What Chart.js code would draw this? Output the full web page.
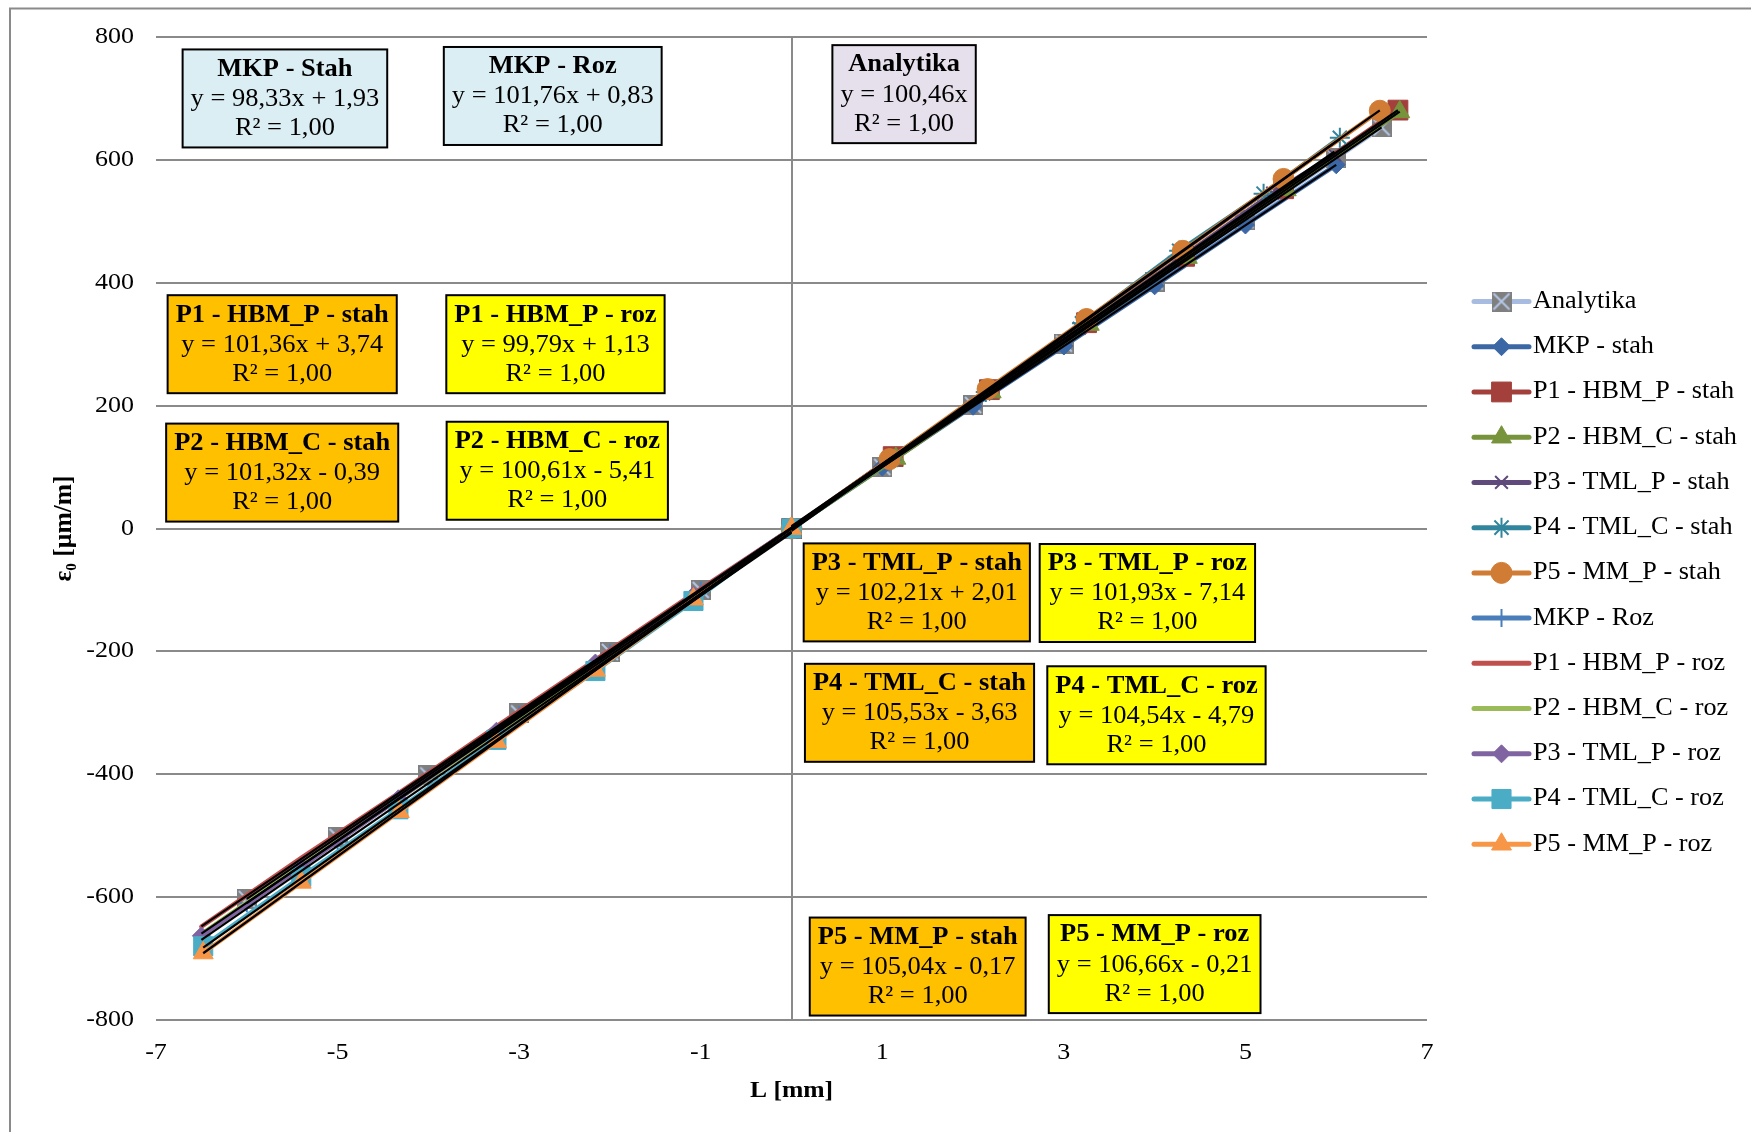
<!DOCTYPE html>
<html>
<head>
<meta charset="utf-8">
<script src="https://cdn.jsdelivr.net/npm/chart.js@4.4.1/dist/chart.umd.min.js"></script>
<style>
  html, body { margin: 0; padding: 0; background: #fff; }
  canvas { display: block; }
</style>
</head>
<body>
<canvas id="chart" width="1751" height="1132" style="width:1751px;height:1132px"></canvas>
<script>
// Nazvy serii (poradi jako v legende)
const seriesNames = [
  "Analytika", "MKP - stah", "P1 - HBM_P - stah", "P2 - HBM_C - stah",
  "P3 - TML_P - stah", "P4 - TML_C - stah", "P5 - MM_P - stah",
  "MKP - Roz", "P1 - HBM_P - roz", "P2 - HBM_C - roz",
  "P3 - TML_P - roz", "P4 - TML_C - roz", "P5 - MM_P - roz"
];

// Hodnoty: L [mm] a ε0 [µm/m]
const analytikaX = [-6, -5, -4, -3, -2, -1, 0, 1, 2, 3, 4, 5, 6, 6.5];
const analytikaY = [-603, -502, -402, -301, -201, -100, 0, 100, 201, 301, 402, 502, 603, 653];

const mkpStahX = [0, 1, 2, 3, 4, 5, 6];
const mkpStahY = [0, 100, 199, 297, 395, 494, 592];
const p1StahX = [0, 1.12, 2.18, 3.25, 4.33, 5.42, 6.68];
const p1StahY = [0, 117, 226, 335, 443, 553, 681];
const p2StahX = [0, 1.15, 2.2, 3.28, 4.36, 5.45, 6.7];
const p2StahY = [0, 114, 222, 332, 441, 551, 678];
const p3StahX = [0, 1.08, 2.12, 3.17, 4.22, 5.3, 5.98];
const p3StahY = [0, 113, 219, 326, 433, 546, 608];
const p4StahX = [0, 1.1, 2.14, 3.2, 4.27, 5.2, 6.04];
const p4StahY = [0, 112, 222, 334, 452, 545, 636];
const p5StahX = [0, 1.08, 2.16, 3.25, 4.31, 5.42, 6.48];
const p5StahY = [0, 113, 227, 341, 452, 569, 680];

const mkpRozX = [0, -1, -2, -3, -4, -5, -6];
const mkpRozY = [0, -101, -203, -304, -406, -508, -610];
const p1RozX = [0, -1.08, -2.16, -3.25, -4.33, -5.4, -6.5];
const p1RozY = [0, -106, -214, -322, -431, -536, -648];
const p2RozX = [0, -1.08, -2.16, -3.25, -4.33, -5.4, -6.5];
const p2RozY = [0, -114, -223, -333, -440, -548, -660];
const p3RozX = [0, -1.08, -2.16, -3.25, -4.33, -5.4, -6.5];
const p3RozY = [0, -109, -219, -330, -440, -551, -663];
const p4RozX = [0, -1.08, -2.16, -3.25, -4.33, -5.4, -6.48];
const p4RozY = [0, -118, -232, -344, -457, -567, -680];
const p5RozX = [0, -1.08, -2.16, -3.25, -4.32, -5.4, -6.48];
const p5RozY = [0, -115, -231, -347, -461, -576, -691];

const allX = [analytikaX, mkpStahX, p1StahX, p2StahX, p3StahX, p4StahX, p5StahX,
  mkpRozX, p1RozX, p2RozX, p3RozX, p4RozX, p5RozX];
const allY = [analytikaY, mkpStahY, p1StahY, p2StahY, p3StahY, p4StahY, p5StahY,
  mkpRozY, p1RozY, p2RozY, p3RozY, p4RozY, p5RozY];

// Linearni spojnice trendu (z rovnic v grafu)
const trendSlope = [100.46, 98.33, 101.36, 101.32, 102.21, 105.53, 105.04, 101.76, 99.79, 100.61, 101.93, 104.54, 106.66];
const trendIntercept = [0, 1.93, 3.74, -0.39, 2.01, -3.63, -0.17, 0.83, 1.13, -5.41, -7.14, -4.79, -0.21];

// Popisky rovnic
const boxTitles = ["Analytika", "MKP - Stah", "P1 - HBM_P - stah", "P2 - HBM_C - stah",
  "P3 - TML_P - stah", "P4 - TML_C - stah", "P5 - MM_P - stah",
  "MKP - Roz", "P1 - HBM_P - roz", "P2 - HBM_C - roz",
  "P3 - TML_P - roz", "P4 - TML_C - roz", "P5 - MM_P - roz"];
const r2Text = "R² = 1,00";

// Styly
const GRID = "#8a8a8a";
const FONT = "'Liberation Serif', 'Times New Roman', serif";
const lineColors = ["#a7bce0", "#3b67a5", "#a3403c", "#77933c", "#5f4a7b", "#31859c", "#d07c34",
  "#4a7ebb", "#c0504d", "#9bbb59", "#8064a2", "#4bacc6", "#f79646"];

function analytikaMarker() {
  const c = document.createElement("canvas");
  c.width = 20; c.height = 20;
  const g = c.getContext("2d");
  g.fillStyle = "#7f7f7f";
  g.fillRect(0, 0, 20, 20);
  g.strokeStyle = "#b4c8e8";
  g.lineWidth = 2;
  g.beginPath();
  g.moveTo(2, 2); g.lineTo(18, 18);
  g.moveTo(18, 2); g.lineTo(2, 18);
  g.stroke();
  return c;
}

const markerStyles = [analytikaMarker(), "rectRot", "rect", "triangle", "crossRot", "star", "circle",
  "cross", false, false, "rectRot", "rect", "triangle"];
const markerRadius = [10, 9, 14, 11.5, 9, 10, 10.5, 9, 0, 0, 9, 13.5, 11.5];
const markerBorder = [0, 1, 1, 1, 2, 2, 1, 2, 0, 0, 1, 1, 1];

// Umisteni ramecku s rovnicemi (stred, v jednotkach os)
const boxPlace = [
  { x: 1.24, y: 707, fill: "#e6e0ec" },
  { x: -5.58, y: 700, fill: "#dbeef4" },
  { x: -5.61, y: 300, fill: "#ffc000" },
  { x: -5.61, y: 91, fill: "#ffc000" },
  { x: 1.38, y: -104, fill: "#ffc000" },
  { x: 1.41, y: -300, fill: "#ffc000" },
  { x: 1.39, y: -713, fill: "#ffc000" },
  { x: -2.63, y: 704, fill: "#dbeef4" },
  { x: -2.60, y: 300, fill: "#ffff00" },
  { x: -2.58, y: 94, fill: "#ffff00" },
  { x: 3.92, y: -105, fill: "#ffff00" },
  { x: 4.02, y: -304, fill: "#ffff00" },
  { x: 4.00, y: -709, fill: "#ffff00" }
];

function fmtNum(v) {
  return v.toFixed(2).replace(".", ",");
}

function equationText(i) {
  const a = trendSlope[i], b = trendIntercept[i];
  if (b === 0) return `y = ${fmtNum(a)}x`;
  return `y = ${fmtNum(a)}x ${b < 0 ? "-" : "+"} ${fmtNum(Math.abs(b))}`;
}

// Text roztazeny vodorovne (jako v puvodnim obrazku)
function drawText(ctx, text, x, y, font, align, sx) {
  ctx.save();
  ctx.font = font;
  ctx.fillStyle = "#000";
  ctx.textBaseline = "middle";
  ctx.textAlign = "left";
  const w = ctx.measureText(text).width * sx;
  const left = align === "center" ? x - w / 2 : align === "right" ? x - w : x;
  ctx.translate(left, y);
  ctx.scale(sx, 1);
  ctx.fillText(text, 0, 0);
  ctx.restore();
}

function textWidth(ctx, text, font, sx) {
  ctx.save();
  ctx.font = font;
  const w = ctx.measureText(text).width * sx;
  ctx.restore();
  return w;
}

function drawMarker(ctx, i, x, y) {
  if (!markerStyles[i]) return;
  ctx.save();
  ctx.fillStyle = lineColors[i];
  ctx.strokeStyle = lineColors[i];
  ctx.lineWidth = markerBorder[i];
  Chart.helpers.drawPoint(ctx, {
    pointStyle: markerStyles[i], radius: markerRadius[i], rotation: 0, borderWidth: markerBorder[i]
  }, x, y);
  ctx.restore();
}

const extras = {
  id: "extras",
  beforeDatasetsDraw(chart) {
    const { ctx, chartArea: a, scales: { x } } = chart;
    const px = Math.round(x.getPixelForValue(0));
    ctx.save();
    ctx.strokeStyle = GRID;
    ctx.lineWidth = 2;
    ctx.beginPath();
    ctx.moveTo(px, a.top);
    ctx.lineTo(px, a.bottom);
    ctx.stroke();
    ctx.restore();
  },
  afterDatasetsDraw(chart) {
    const { ctx, scales: { x, y } } = chart;
    const sx = 1.08;
    const boldFont = `bold 24.5px ${FONT}`;
    const regFont = `24.5px ${FONT}`;
    boxPlace.forEach((p, i) => {
      const cx = x.getPixelForValue(p.x);
      const cy = y.getPixelForValue(p.y);
      const eq = equationText(i);
      const w = Math.max(textWidth(ctx, boxTitles[i], boldFont, sx),
        textWidth(ctx, eq, regFont, sx), textWidth(ctx, r2Text, regFont, sx)) + 16;
      const h = 98;
      ctx.save();
      ctx.fillStyle = p.fill;
      ctx.strokeStyle = "#000";
      ctx.lineWidth = 2;
      ctx.fillRect(cx - w / 2, cy - h / 2, w, h);
      ctx.strokeRect(cx - w / 2, cy - h / 2, w, h);
      ctx.restore();
      drawText(ctx, boxTitles[i], cx, cy - 29, boldFont, "center", sx);
      drawText(ctx, eq, cx, cy + 1, regFont, "center", sx);
      drawText(ctx, r2Text, cx, cy + 30, regFont, "center", sx);
    });
  },
  afterDraw(chart) {
    const { ctx, chartArea: a, scales: { x, y } } = chart;
    const tickFont = `23px ${FONT}`;
    y.ticks.forEach((t) => {
      drawText(ctx, String(t.value), a.left - 22, y.getPixelForValue(t.value), tickFont, "right", 1.13);
    });
    x.ticks.forEach((t) => {
      drawText(ctx, String(t.value), x.getPixelForValue(t.value), a.bottom + 33, tickFont, "center", 1.13);
    });
    // Nazvy os
    drawText(ctx, "L [mm]", (a.left + a.right) / 2, a.bottom + 71, `bold 23.5px ${FONT}`, "center", 1.09);
    ctx.save();
    ctx.translate(65, (a.top + a.bottom) / 2);
    ctx.rotate(-Math.PI / 2);
    drawText(ctx, "ε₀ [µm/m]", 0, 0, `bold 25px ${FONT}`, "center", 1.02);
    ctx.restore();

    // Legenda
    const lx = a.right + 47;
    seriesNames.forEach((name, i) => {
      const ly = 301.5 + i * 45.23;
      ctx.save();
      ctx.strokeStyle = lineColors[i];
      ctx.lineWidth = 5;
      ctx.lineCap = "round";
      ctx.beginPath();
      ctx.moveTo(lx, ly);
      ctx.lineTo(lx + 55, ly);
      ctx.stroke();
      ctx.restore();
      drawMarker(ctx, i, lx + 27.5, ly);
      drawText(ctx, name, lx + 59, ly, `24.5px ${FONT}`, "left", 1.07);
    });

    // Ramecek grafu
    ctx.save();
    ctx.strokeStyle = GRID;
    ctx.lineWidth = 2;
    ctx.strokeRect(10, 8.5, 1800, 1200);
    ctx.restore();
  }
};

const datasets = [];
seriesNames.forEach((name, i) => {
  datasets.push({
    label: name,
    data: allX[i].map((v, k) => ({ x: v, y: allY[i][k] })),
    showLine: true,
    borderColor: lineColors[i],
    backgroundColor: lineColors[i],
    borderWidth: 4.5,
    borderCapStyle: "round",
    borderJoinStyle: "round",
    pointStyle: markerStyles[i] || "circle",
    pointRadius: markerStyles[i] ? markerRadius[i] : 0,
    pointBorderWidth: markerBorder[i],
    pointBackgroundColor: lineColors[i],
    pointBorderColor: lineColors[i],
    order: 100 - i
  });
});

// Spojnice trendu (cerne)
seriesNames.forEach((name, i) => {
  const xMin = Math.min(...allX[i]);
  const xMax = Math.max(...allX[i]);
  datasets.push({
    label: "trend " + name,
    data: [xMin, xMax].map((v) => ({ x: v, y: trendSlope[i] * v + trendIntercept[i] })),
    showLine: true,
    borderColor: "#000",
    borderWidth: 2.25,
    pointRadius: 0,
    order: 0
  });
});

new Chart(document.getElementById("chart"), {
  type: "scatter",
  data: { datasets },
  options: {
    responsive: false,
    animation: false,
    devicePixelRatio: 1,
    events: [],
    layout: { padding: { top: 37, right: 324, bottom: 0, left: 0 } },
    plugins: { legend: { display: false }, tooltip: { enabled: false } },
    scales: {
      x: {
        type: "linear", min: -7, max: 7,
        ticks: { stepSize: 2, display: false },
        grid: { display: false },
        border: { display: false },
        afterFit(s) { s.height = 112; }
      },
      y: {
        type: "linear", min: -800, max: 800,
        ticks: { stepSize: 200, display: false },
        grid: { color: GRID, lineWidth: 2, drawTicks: false },
        border: { display: false },
        afterFit(s) { s.width = 156; }
      }
    }
  },
  plugins: [extras]
});
</script>
</body>
</html>
